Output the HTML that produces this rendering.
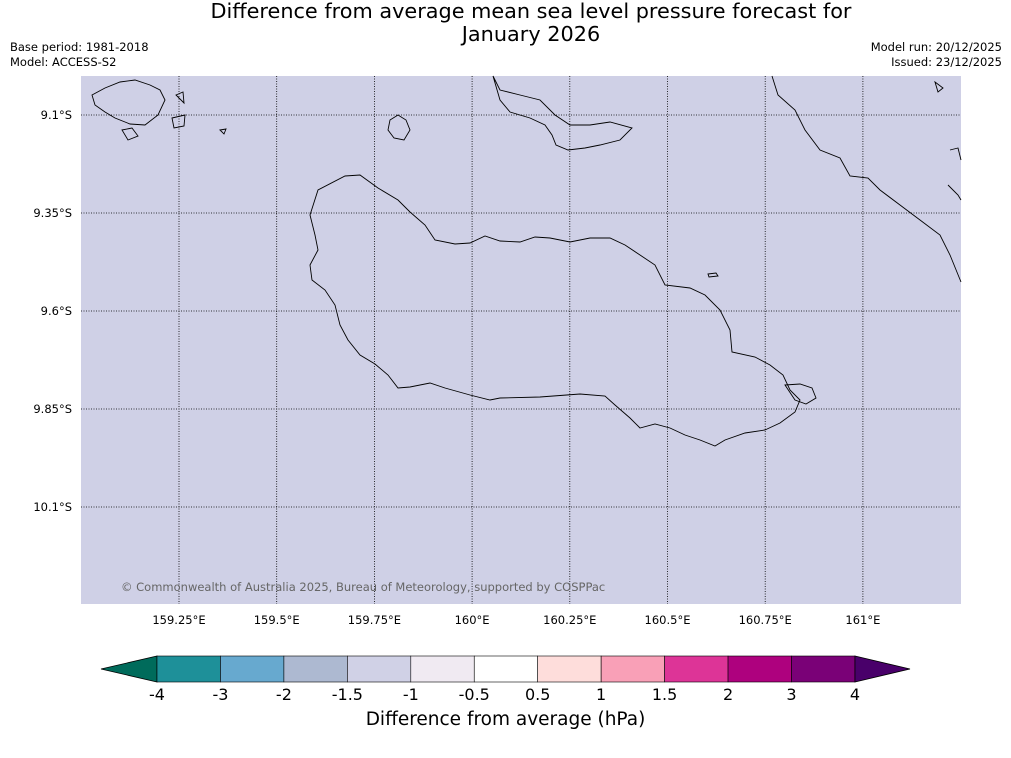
<!DOCTYPE html>
<html><head><meta charset="utf-8"><style>
body{margin:0;width:1011px;height:758px;background:#fff;font-family:"DejaVu Sans","Liberation Sans",sans-serif;overflow:hidden;position:relative}
.t{position:absolute;white-space:nowrap}
</style></head><body>
<div class="t" style="left:0;width:1062px;top:0;text-align:center;font-size:20.8px;line-height:23px;color:#000">Difference from average mean sea level pressure forecast for<br>January 2026</div>
<div class="t" style="left:10px;top:40px;font-size:11.5px;line-height:15px">Base period: 1981-2018<br>Model: ACCESS-S2</div>
<div class="t" style="right:9px;top:40px;font-size:11.5px;line-height:15px;text-align:right">Model run: 20/12/2025<br>Issued: 23/12/2025</div>
<svg id="svg" width="1011" height="758" style="position:absolute;left:0;top:0">
<rect x="81" y="76" width="880" height="528" fill="#cfd0e6"/>
<g id="grid"></g>
<g fill="none" stroke="#000" stroke-width="0.9">
<path d="M310,215 L318,190 345,176 360,175 378,188 398,200 410,212 425,225 435,240 455,244 470,243 485,236 500,241 520,242 535,237 550,238 570,242 590,238 610,238 625,245 640,255 655,265 665,285 690,288 705,295 720,310 730,330 732,352 755,357 770,365 783,375 790,390 800,400 795,412 780,423 765,430 745,433 725,440 715,446 700,440 685,435 670,428 655,424 640,428 630,418 615,405 605,396 580,394 540,397 500,398 490,400 470,395 445,388 430,383 410,387 398,388 388,375 375,364 360,355 348,340 340,325 335,305 325,290 312,280 310,265 318,250 315,235 Z"/>
<path d="M390,120 L398,115 406,120 410,130 404,140 394,138 388,130 Z"/>
<path d="M785,385 L800,384 812,388 816,398 806,404 795,400 Z"/>
<path d="M708,274 L716,273 718,276 709,277 Z"/>
<path d="M92,95 L105,88 120,82 135,80 150,85 160,90 165,100 158,115 145,125 130,124 115,118 105,112 95,105 Z M122,130 L132,128 138,136 128,140 Z M172,118 L185,115 184,126 174,128 Z M220,130 L226,129 224,134 Z M176,95 L183,92 184,103 Z"/>
<path d="M493,76 L500,90 520,95 540,100 555,115 570,125 590,125 610,122 632,128 620,140 600,145 585,148 568,150 556,145 552,135 545,125 530,118 510,112 500,100 Z"/>
<path d="M772,76 L778,95 795,110 805,130 820,150 840,158 850,176 868,178 880,190 900,205 920,220 940,235 950,255 961,282 M948,185 L958,195 961,200 M950,150 L958,148 961,160 M935,82 L943,88 938,92 Z"/>
</g>
<g id="cbar"></g>
</svg>
<div class="t" style="left:121px;top:580px;font-size:11.5px;color:#666">© Commonwealth of Australia 2025, Bureau of Meteorology, supported by COSPPac</div>
<div class="t" style="left:0;width:1011px;text-align:center;top:709px;font-size:18.5px">Difference from average (hPa)</div>
<script>
const lonLabels=["159.25°E","159.5°E","159.75°E","160°E","160.25°E","160.5°E","160.75°E","161°E"];
const lonValues=[159.25,159.5,159.75,160,160.25,160.5,160.75,161];
const latLabels=["9.1°S","9.35°S","9.6°S","9.85°S","10.1°S"];
const latValues=[-9.1,-9.35,-9.6,-9.85,-10.1];
const cbarBounds=["-4","-3","-2","-1.5","-1","-0.5","0.5","1","1.5","2","3","4"];
const cbarColors=["#1e9099","#67a9cf","#adb9d1","#d0d1e6","#f0eaf2","#ffffff","#fedddb","#f9a0b7","#dd3497","#ae017e","#7a0177"];
const cbarLowColor="#006b5b", cbarHighColor="#49006a";
const NS="http://www.w3.org/2000/svg";
const FONT="DejaVu Sans, Liberation Sans, sans-serif";
const xOf=lon=>179+(lon-159.25)/0.25*97.7;
const yOf=lat=>115+(-9.1-lat)/0.25*98;
const g=document.getElementById('grid');
function mk(tag,attrs,parent,txt){const e=document.createElementNS(NS,tag);for(const k in attrs)e.setAttribute(k,attrs[k]);if(txt!==undefined)e.textContent=txt;parent.appendChild(e);return e;}
lonValues.forEach((v,i)=>{const x=xOf(v);
const l=mk('line',{x1:x,x2:x,y1:76,y2:604,stroke:'#000','stroke-width':0.8,'stroke-dasharray':'1,1.5'},g);


const t=mk('text',{x:x,y:624,'text-anchor':'middle','font-size':11.5,'font-family':FONT},g,lonLabels[i]);

});
latValues.forEach((v,i)=>{const y=yOf(v);
const l=mk('line',{x1:81,x2:961,y1:y,y2:y,stroke:'#000','stroke-width':0.8,'stroke-dasharray':'1,1.5'},g);


const t=mk('text',{x:72,y:y+4,'text-anchor':'end','font-size':11.5,'font-family':FONT},g,latLabels[i]);

});
const c=document.getElementById('cbar');
const cbX0=157,cbW=63.45,cbTop=656,cbH=26;
const lo=mk('polygon',{points:`101,${cbTop+cbH/2} ${cbX0},${cbTop} ${cbX0},${cbTop+cbH}`,fill:cbarLowColor,stroke:'#000','stroke-width':0.8},c);


cbarColors.forEach((col,i)=>{const r=mk('rect',{x:cbX0+i*cbW,y:cbTop,width:cbW,height:cbH,fill:col,stroke:'#000','stroke-width':0.6},c);

});
const xe=cbX0+cbarColors.length*cbW;
const hi=mk('polygon',{points:`${xe},${cbTop} 910,${cbTop+cbH/2} ${xe},${cbTop+cbH}`,fill:cbarHighColor,stroke:'#000','stroke-width':0.8},c);


cbarBounds.forEach((b,i)=>{const t=mk('text',{x:cbX0+i*cbW,y:700,'text-anchor':'middle','font-size':16,'font-family':FONT},c,b);

});
</script>
</body></html>
